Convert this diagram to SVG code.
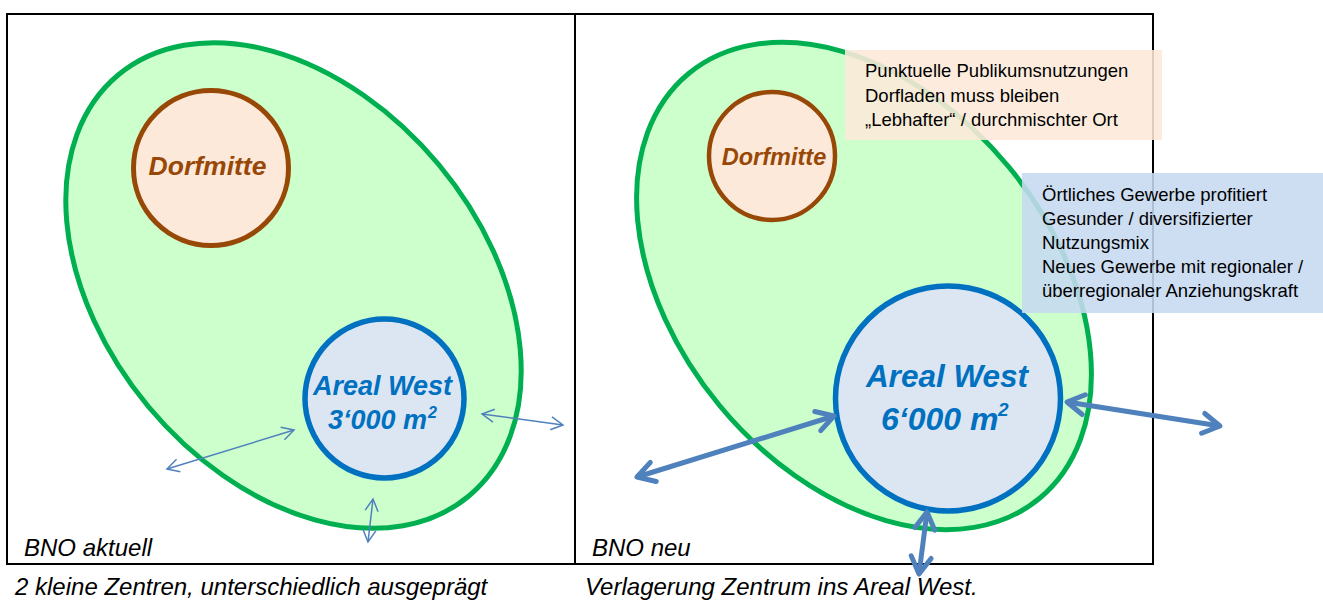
<svg xmlns="http://www.w3.org/2000/svg" width="1323" height="601" viewBox="0 0 1323 601">
<style>
.panel{fill:none;stroke:#000;stroke-width:2}
.zone{fill:#CCFFCC;stroke:#00B050;stroke-width:5}
.dorf{fill:#FDE9D9;stroke:#984806}
.west{fill:#DCE6F2;stroke:#0070C0}
.tdorf{font-family:"Liberation Sans",Arial,sans-serif;font-weight:bold;font-style:italic;fill:#984806;text-anchor:middle}
.twest{font-family:"Liberation Sans",Arial,sans-serif;font-weight:bold;font-style:italic;fill:#0070C0}
.cap{font-family:"Liberation Sans",Arial,sans-serif;font-style:italic;font-size:24px;fill:#000}
.note{font-family:"Liberation Sans",Arial,sans-serif;font-size:18.5px;fill:#000}
.thin{fill:none;stroke:#4F81BD;stroke-width:1.5;marker-start:url(#hThin);marker-end:url(#hThin)}
.thick{fill:none;stroke:#4F81BD;stroke-width:5;marker-start:url(#hThick);marker-end:url(#hThick)}
</style>
<defs>
<marker id="hThin" viewBox="0 0 16 16" refX="14" refY="8" markerWidth="16" markerHeight="16" markerUnits="userSpaceOnUse" orient="auto-start-reverse" overflow="visible">
<path d="M2,1.5 L14,8 L2,14.5" fill="none" stroke="#4F81BD" stroke-width="1.5"/>
</marker>
<marker id="hThick" viewBox="0 0 24 24" refX="21" refY="12" markerWidth="24" markerHeight="24" markerUnits="userSpaceOnUse" orient="auto-start-reverse" overflow="visible">
<path d="M4,2 L21,12 L4,22" fill="none" stroke="#4F81BD" stroke-width="5" stroke-linecap="round" stroke-linejoin="round"/>
</marker>
</defs>
<rect fill="#fff" x="0" y="0" width="1323" height="601"/>
<g id="panels">
<rect class="panel" x="7" y="14" width="568" height="550"/>
<rect class="panel" x="575" y="14" width="578" height="550"/>
</g>
<g id="zone-aktuell">
<ellipse class="zone" cx="293.5" cy="285.5" rx="274" ry="189" transform="rotate(50.2 293.5 285.5)"/>
</g>
<g id="zone-neu">
<ellipse class="zone" cx="864" cy="286" rx="275.5" ry="187.5" transform="rotate(50.4 864 286)"/>
</g>
<g id="dorfmitte-aktuell">
<circle class="dorf" cx="211" cy="168" r="77.5" stroke-width="5"/>
<text class="tdorf" x="207.5" y="175" font-size="26.5">Dorfmitte</text>
</g>
<g id="areal-west-aktuell">
<circle class="west" cx="384.5" cy="398.5" r="79.5" stroke-width="5.5"/>
<text class="twest" x="382.5" y="395" font-size="27" text-anchor="middle">Areal West</text>
<text class="twest" x="328" y="429" font-size="27">3‘000 m<tspan x="428" y="418" font-size="16">2</tspan></text>
</g>
<g id="dorfmitte-neu">
<ellipse class="dorf" cx="772" cy="156" rx="63" ry="64" stroke-width="4.5"/>
<text class="tdorf" x="774" y="165" font-size="23.5">Dorfmitte</text>
</g>
<g id="areal-west-neu">
<circle class="west" cx="948" cy="398.5" r="112.5" stroke-width="5.5"/>
<text class="twest" x="947" y="387" font-size="31.5" text-anchor="middle">Areal West</text>
<text class="twest" x="881" y="430" font-size="32">6‘000 m<tspan x="998" y="416" font-size="19">2</tspan></text>
</g>
<g id="connectors">
<line class="thin" x1="167" y1="469" x2="294" y2="430"/>
<line class="thin" x1="482" y1="414" x2="563" y2="425"/>
<line class="thin" x1="373" y1="499" x2="368" y2="542"/>
<line class="thick" x1="637" y1="477" x2="834" y2="416"/>
<line class="thick" x1="1067" y1="402" x2="1220" y2="426"/>
<line class="thick" x1="927" y1="512" x2="919" y2="574"/>
</g>
<g id="note-dorfmitte">
<rect x="845" y="50" width="317" height="90" fill="#FDE9D9" fill-opacity="0.88"/>
<text class="note" x="865" y="77">Punktuelle Publikumsnutzungen</text>
<text class="note" x="865" y="101.5">Dorfladen muss bleiben</text>
<text class="note" x="865" y="126">„Lebhafter“ / durchmischter Ort</text>
</g>
<g id="note-areal-west">
<rect x="1022" y="173" width="301" height="140" fill="#C6D9F1" fill-opacity="0.88"/>
<text class="note" x="1042" y="201">Örtliches Gewerbe profitiert</text>
<text class="note" x="1042" y="225">Gesunder / diversifizierter</text>
<text class="note" x="1042" y="249">Nutzungsmix</text>
<text class="note" x="1042" y="273">Neues Gewerbe mit regionaler /</text>
<text class="note" x="1042" y="297">überregionaler Anziehungskraft</text>
</g>
<g id="labels">
<text class="cap" x="24" y="556">BNO aktuell</text>
<text class="cap" x="592" y="556">BNO neu</text>
<text class="cap" x="15" y="595">2 kleine Zentren, unterschiedlich ausgeprägt</text>
<text class="cap" x="585" y="595">Verlagerung Zentrum ins Areal West.</text>
</g>
</svg>
